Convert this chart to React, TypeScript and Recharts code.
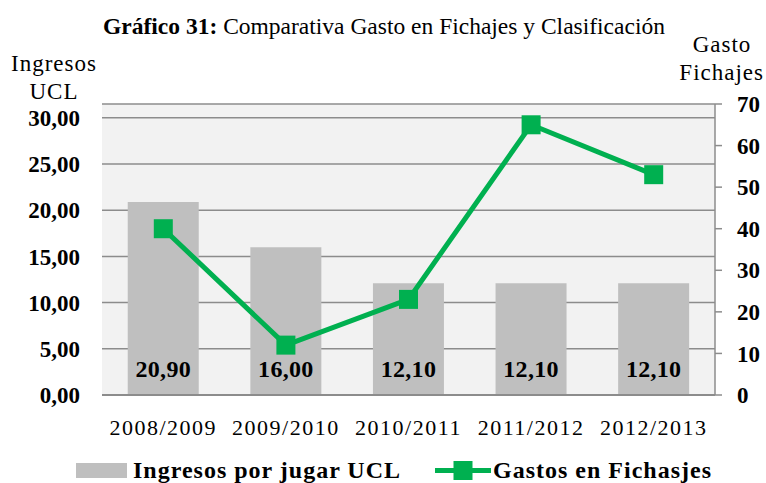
import React from 'react';
import {
  ComposedChart,
  Bar,
  Line,
  XAxis,
  YAxis,
  CartesianGrid,
  LabelList,
} from 'recharts';

const seasons = ['2008/2009', '2009/2010', '2010/2011', '2011/2012', '2012/2013'];
const ingresosUCL = [20.9, 16.0, 12.1, 12.1, 12.1];
const gastosFichajes = [40, 12, 23, 65, 53];
const leftTicks = [0, 5, 10, 15, 20, 25, 30];
const rightTicks = [0, 10, 20, 30, 40, 50, 60, 70];

const data = seasons.map((season, i) => ({
  season,
  ingresos: ingresosUCL[i],
  gastos: gastosFichajes[i],
}));

const FONT = 'Liberation Serif, DejaVu Serif, Times, serif';
const GREEN = '#00b050';
const BAR = '#bfbfbf';
const GRID = '#8c8c8c';

const comma = (v: number) => Number(v).toFixed(2).replace('.', ',');

const SquareDot = (props: any) => {
  const { cx, cy } = props;
  if (cx == null || cy == null) return null;
  return <rect x={cx - 9.5} y={cy - 9.5} width={19} height={19} fill={GREEN} />;
};

const abs = (s: React.CSSProperties): React.CSSProperties => ({
  position: 'absolute',
  fontFamily: FONT,
  color: '#000',
  whiteSpace: 'nowrap',
  lineHeight: 1,
  ...s,
});

const App = () => {
  return (
    <div style={{ position: 'absolute', left: 0, top: 0, width: 766, height: 483, background: '#fff' }}>
      <ComposedChart
        width={766}
        height={483}
        data={data}
        margin={{ top: 104, right: 0, bottom: 43, left: 0 }}
        barCategoryGap="21%"
        style={{ fontFamily: FONT }}
      >
        <CartesianGrid
          yAxisId="left"
          vertical={false}
          stroke={GRID}
          strokeWidth={1.5}
          fill="#f2f2f2"
        />
        <XAxis
          dataKey="season"
          height={45}
          tickLine={false}
          axisLine={{ stroke: GRID, strokeWidth: 2 }}
          tickSize={0}
          tickMargin={24}
          tick={{ fontFamily: FONT, fontSize: 22, fill: '#000', letterSpacing: 1.5 }}
        />
        <YAxis
          yAxisId="left"
          orientation="left"
          width={102}
          domain={[0, 31.5]}
          ticks={leftTicks}
          tickFormatter={comma}
          axisLine={false}
          tickLine={false}
          tickSize={0}
          tickMargin={22}
          tick={{ fontFamily: FONT, fontSize: 23, fontWeight: 'bold', fill: '#000' }}
        />
        <YAxis
          yAxisId="right"
          orientation="right"
          width={51}
          domain={[0, 70]}
          ticks={rightTicks}
          axisLine={{ stroke: GRID, strokeWidth: 1.5 }}
          tickLine={{ stroke: GRID, strokeWidth: 1.5 }}
          tickSize={7}
          tickMargin={15}
          tick={{ fontFamily: FONT, fontSize: 23, fontWeight: 'bold', fill: '#000', textAnchor: 'start' }}
        />
        <Bar yAxisId="left" dataKey="ingresos" fill={BAR} isAnimationActive={false}>
          <LabelList
            dataKey="ingresos"
            position="insideBottom"
            offset={18}
            formatter={(v: any) => comma(v)}
            style={{ fontFamily: FONT, fontSize: 24, fontWeight: 'bold', fill: '#000', letterSpacing: 0.3 }}
          />
        </Bar>
        <Line
          yAxisId="right"
          dataKey="gastos"
          stroke={GREEN}
          strokeWidth={5}
          dot={<SquareDot />}
          activeDot={false}
          isAnimationActive={false}
        />
      </ComposedChart>

      <div style={abs({ left: 0, top: 15, width: 768, textAlign: 'center', fontSize: 23.5 })}>
        <b>Gráfico 31:</b> Comparativa Gasto en Fichajes y Clasificación
      </div>

      <div style={abs({ left: 0, top: 50, width: 108, textAlign: 'center', fontSize: 23, lineHeight: '28px', letterSpacing: 1 })}>
        Ingresos
        <br />
        UCL
      </div>

      <div style={abs({ left: 670, top: 31, width: 94, textAlign: 'right', fontSize: 23, lineHeight: '28px', letterSpacing: 1 })}>
        <div style={{ textAlign: 'center', paddingLeft: 10 }}>Gasto</div>
        Fichajes
      </div>

      <div style={abs({ left: 76, top: 458, fontSize: 24, fontWeight: 'bold', letterSpacing: 1, display: 'flex', alignItems: 'center' })}>
        <span style={{ display: 'inline-block', width: 51, height: 15, background: BAR, marginRight: 6 }} />
        <span>Ingresos por jugar UCL</span>
      </div>

      <div style={abs({ left: 435, top: 458, fontSize: 24, fontWeight: 'bold', letterSpacing: 1, display: 'flex', alignItems: 'center' })}>
        <svg width={56} height={19} style={{ marginRight: 2 }}>
          <line x1={0} y1={9.5} x2={56} y2={9.5} stroke={GREEN} strokeWidth={5} strokeLinecap="round" />
          <rect x={18.5} y={0} width={19} height={19} fill={GREEN} />
        </svg>
        <span>Gastos en Fichasjes</span>
      </div>
    </div>
  );
};

export default App;
